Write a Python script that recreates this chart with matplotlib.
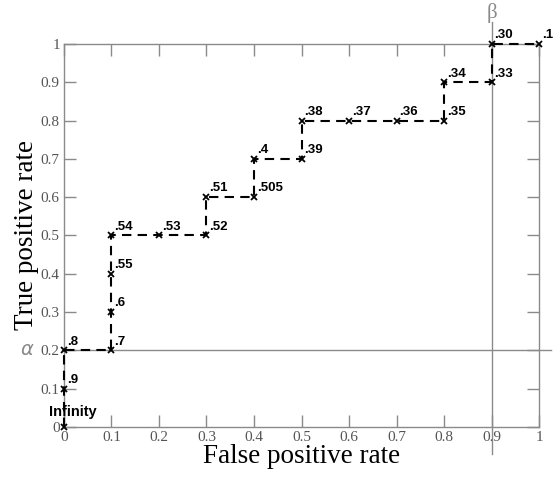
import matplotlib
matplotlib.use("Agg")
import matplotlib.pyplot as plt

# ROC points (false positive rate, true positive rate) with threshold labels
fpr = [0.0, 0.0, 0.0, 0.1, 0.1, 0.1, 0.1, 0.2, 0.3, 0.3, 0.4, 0.4, 0.5, 0.5,
       0.6, 0.7, 0.8, 0.8, 0.9, 0.9, 1.0]
tpr = [0.0, 0.1, 0.2, 0.2, 0.3, 0.4, 0.5, 0.5, 0.5, 0.6, 0.6, 0.7, 0.7, 0.8,
       0.8, 0.8, 0.8, 0.9, 0.9, 1.0, 1.0]
thresholds = ["Infinity", ".9", ".8", ".7", ".6", ".55", ".54", ".53", ".52",
              ".51", ".505", ".4", ".39", ".38", ".37", ".36", ".35", ".34",
              ".33", ".30", ".1"]
alpha_tpr = 0.2
beta_fpr = 0.9
ticks = [0, 0.1, 0.2, 0.3, 0.4, 0.5, 0.6, 0.7, 0.8, 0.9, 1]
tick_labels = ["0", "0.1", "0.2", "0.3", "0.4", "0.5", "0.6", "0.7", "0.8", "0.9", "1"]

gray = "#8a8a8a"
serif = ["Liberation Serif", "DejaVu Serif"]
sans = ["Liberation Sans", "DejaVu Sans"]

fig = plt.figure(figsize=(5.55, 4.78), dpi=100)
ax = fig.add_axes([0.1153, 0.1067, 0.8559, 0.8013])

ax.plot(fpr, tpr, color="black", linestyle=(0, (4.5, 3)), linewidth=1.5,
        marker="x", markersize=5, markeredgewidth=1.3, zorder=3, clip_on=False)

for x, y, lab in zip(fpr, tpr, thresholds):
    if lab == "Infinity":
        off, size = (-11, 6), 10.5
    else:
        off, size = (2, 2), 9.5
    ax.annotate(lab, (x, y), xytext=off, textcoords="offset points",
                fontsize=size, fontweight="bold", family=sans, ha="left", va="bottom")

# alpha / beta reference lines, running past the axes
ax.axhline(alpha_tpr, xmin=-0.004, xmax=1.025, color=gray, linewidth=1.0,
           clip_on=False, zorder=1)
ax.axvline(beta_fpr, ymin=-0.07, ymax=1.057, color=gray, linewidth=1.0,
           clip_on=False, zorder=1)
ax.text(-0.078, alpha_tpr, r"$\alpha$", color=gray, fontsize=14, ha="center",
        va="center", family=serif)
ax.text(beta_fpr, 1.082, "β", color=gray, fontsize=15, ha="center",
        va="center", family=serif)

ax.set_xlim(0, 1)
ax.set_ylim(0, 1)
ax.set_xticks(ticks)
ax.set_xticklabels(tick_labels)
ax.set_yticks(ticks)
ax.set_yticklabels(tick_labels)
ax.tick_params(direction="in", length=8.5, width=1, color=gray, labelcolor="#555555",
               top=True, right=True, labelsize=11, pad=3)
for lbl in ax.get_xticklabels() + ax.get_yticklabels():
    lbl.set_family(serif)
for sp in ax.spines.values():
    sp.set_color(gray)
    sp.set_linewidth(1.0)

ax.set_xlabel("False positive rate", fontsize=19.5, family=serif, labelpad=0)
ax.set_ylabel("True positive rate", fontsize=19.5, family=serif, labelpad=1)

fig.savefig("out.png", dpi=100)
